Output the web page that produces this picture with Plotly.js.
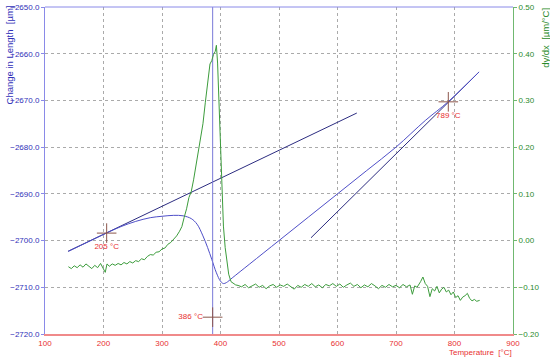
<!DOCTYPE html>
<html>
<head>
<meta charset="utf-8">
<script src="https://cdn.plot.ly/plotly-3.0.1.min.js"></script>
<style>
  body { margin: 0; background: #fff; }
  #graph { width: 550px; height: 359px; }
</style>
</head>
<body>
<div id="graph"></div>
<script>
// dilatometer curve, change in length [µm] vs temperature [°C]
const lengthTemp = [140, 170, 205, 230, 255, 280, 300, 320, 336, 350, 360, 370, 378, 385, 393, 400, 405, 410, 420, 450, 500, 550, 600, 650, 700, 750, 789, 842]
const lengthVals = [-2702.3, -2700.5, -2698.4, -2697.0, -2695.9, -2695.1, -2694.8, -2694.6, -2694.7, -2695.3, -2696.5, -2699.0, -2701.5, -2704.0, -2706.9, -2708.7, -2709.2, -2709.0, -2708.0, -2705.0, -2700.0, -2695.0, -2690.0, -2685.0, -2680.0, -2674.3, -2670.3, -2663.9]

// tangent lines drawn by the analysis
const tangentLowT = [139.3, 633]
const tangentLowL = [-2702.3, -2672.7]
const tangentHighT = [554.7, 842]
const tangentHighL = [-2699.4, -2663.9]

// derivative dy/dx [µm/°C]
const derivTemp = [140, 145, 150, 155, 160, 165, 170, 175, 180, 185, 190, 195, 200, 203, 206, 210, 215, 220, 225, 230, 235, 240, 245, 250, 255, 260, 265, 270, 275, 280, 285, 290, 295, 300, 305, 310, 315, 320, 325, 330, 334, 338, 342, 346, 350, 354, 358, 362, 366, 370, 374, 378, 382, 385, 388, 391, 393, 395, 397, 399, 401, 403, 405, 408, 411, 414, 418, 422, 426,
  430, 436, 442, 448, 454, 460, 466, 472, 478, 484, 490, 496, 502, 508, 514, 520, 526, 532, 538, 544, 550, 556, 562, 568, 574, 580, 586, 592, 598, 604, 610, 616, 622, 628, 634, 640, 646, 652, 658, 664, 670, 676, 682, 688, 694, 700, 706, 712, 718, 724, 728, 732, 736, 742, 746, 750, 754, 758, 762, 766, 770, 774, 778, 782, 786, 790, 794, 798, 802, 806, 810, 814, 818, 822, 826, 830, 834, 838, 843]
const derivVals = [-0.056, -0.060, -0.054, -0.058, -0.052, -0.057, -0.050, -0.056, -0.060, -0.053, -0.058, -0.049, -0.062, -0.068, -0.050, -0.055, -0.050, -0.053, -0.049, -0.052, -0.047, -0.050, -0.045, -0.048, -0.043, -0.045, -0.039, -0.041, -0.034, -0.030, -0.031, -0.025, -0.024, -0.018, -0.016, -0.008, -0.004, 0.003, 0.010, 0.020, 0.030, 0.050, 0.068, 0.092, 0.105, 0.130, 0.160, 0.187, 0.215, 0.250, 0.295, 0.340, 0.378, 0.385, 0.398, 0.405, 0.418, 0.380, 0.310, 0.225, 0.150, 0.080, 0.031, -0.015, -0.050, -0.072, -0.088, -0.092, -0.095,
  -0.096, -0.099, -0.094, -0.101, -0.097, -0.093, -0.100, -0.096, -0.103, -0.097, -0.094, -0.100, -0.095, -0.098, -0.093, -0.099, -0.104, -0.096, -0.100, -0.094, -0.098, -0.092, -0.099, -0.095, -0.101, -0.094, -0.097, -0.092, -0.098, -0.093, -0.100, -0.095, -0.091, -0.098, -0.094, -0.101, -0.095, -0.099, -0.092, -0.097, -0.103, -0.096, -0.100, -0.094, -0.099, -0.096, -0.101, -0.094, -0.099, -0.095, -0.115, -0.097, -0.100, -0.088, -0.078, -0.092, -0.098, -0.120, -0.103, -0.108, -0.098, -0.112, -0.104, -0.100, -0.110, -0.106, -0.116, -0.110, -0.122, -0.118, -0.128, -0.121, -0.118, -0.113, -0.124, -0.129, -0.126, -0.130, -0.128]

// evaluated points
const pointTemps = [205.4, 386.6, 789.4]
const pointLens = [-2698.4, -2716.4, -2670.3]
const pointLabels = ['205 °C', '386 °C', '789 °C']
const pointTextPos = ['bottom center', 'middle left', 'bottom center']
const lengthRange = [-2720, -2650]

const font = 'Liberation Sans, Arial, sans-serif'
const blue = '#3030b8'
const green = '#2a8a2a'
const red = '#e83030'

const traces = [
  {x: tangentLowT, y: tangentLowL, mode: 'lines', line: {color: '#2c2c80', width: 1}},
  {x: tangentHighT, y: tangentHighL, mode: 'lines', line: {color: '#2c2c80', width: 1}},
  {x: lengthTemp, y: lengthVals, mode: 'lines', line: {color: '#4f4fc8', width: 1, shape: 'spline'}},
  {x: [pointTemps[1], pointTemps[1]], y: lengthRange, mode: 'lines', line: {color: '#7a7ad8', width: 1}},
  {x: derivTemp, y: derivVals, yaxis: 'y2', mode: 'lines', line: {color: '#3c9c3c', width: 1}},
  {
    x: pointTemps, y: pointLens, mode: 'markers+text',
    text: pointLabels, textposition: pointTextPos,
    textfont: {family: font, size: 8, color: red},
    marker: {symbol: 'cross-thin-open', size: 14, line: {color: '#f07070', width: 1}}
  }
]

const layout = {
  width: 550,
  height: 359,
  margin: {l: 45, r: 37, t: 7, b: 25},
  showlegend: false,
  paper_bgcolor: '#fff',
  plot_bgcolor: '#fff',
  font: {family: font, size: 8},
  xaxis: {
    range: [100, 900], dtick: 100, tick0: 100,
    showline: true, linecolor: '#f08a8a', linewidth: 2,
    showgrid: true, gridcolor: '#aaa', griddash: 'dot', gridwidth: 1,
    zeroline: false, ticks: '', tickfont: {color: red, size: 8}
  },
  yaxis: {
    range: lengthRange, dtick: 10, tickformat: '.1f',
    showline: true, linecolor: '#8a8ae8', linewidth: 1,
    showgrid: true, gridcolor: '#aaa', griddash: 'dot', gridwidth: 1,
    zeroline: false, ticks: 'outside', ticklen: 3, tickcolor: '#8a8ae8',
    tickfont: {color: blue, size: 8}
  },
  yaxis2: {
    range: [-0.2, 0.5], dtick: 0.1, tickformat: '.2f',
    overlaying: 'y', side: 'right',
    showline: true, linecolor: '#70b870', linewidth: 1,
    showgrid: false, zeroline: false,
    ticks: 'outside', ticklen: 3, tickcolor: '#70b870',
    tickfont: {color: green, size: 8}
  },
  shapes: [
    {type: 'line', xref: 'paper', yref: 'paper', x0: 0, x1: 1, y0: 1, y1: 1, line: {color: '#8a8ae8', width: 1}}
  ],
  annotations: [
    {text: 'Change in Length  [µm]', xref: 'paper', yref: 'paper', x: -0.075, y: 1.012, xanchor: 'center', yanchor: 'top', textangle: -90, showarrow: false, font: {color: blue, size: 9.5}},
    {text: 'dy/dx  [µm/°C]', xref: 'paper', yref: 'paper', x: 1.068, y: 1.003, xanchor: 'center', yanchor: 'top', textangle: -90, showarrow: false, font: {color: green, size: 9.5}},
    {text: 'Temperature  [°C]', xref: 'paper', yref: 'paper', x: 1.002, y: -0.057, xanchor: 'right', yanchor: 'middle', showarrow: false, font: {color: red, size: 8}}
  ]
}

Plotly.newPlot('graph', traces, layout, {staticPlot: true})
</script>
</body>
</html>
